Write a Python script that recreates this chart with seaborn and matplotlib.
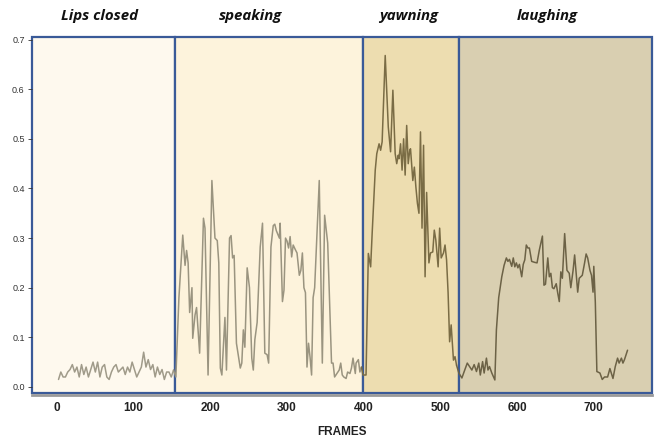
import numpy as np
import pandas as pd
import matplotlib
matplotlib.use('Agg')
import matplotlib.pyplot as plt
import seaborn as sns

# ===== DATA =====
phases = ['Lips closed', 'speaking', 'yawning', 'laughing']
phase_bounds = [-33, 154, 399, 524, 776]
phase_colors = ['#FEF9EE', '#FDF3DC', '#EDDDB0', '#D9CFB1']
line_colors = ['#a09b8a', '#9a9480', '#7a6c45', '#6c6246']

closed_frames = [2, 5, 8, 11, 14, 17, 20, 23, 26, 29, 32, 35, 38, 41, 44, 47, 50, 53, 56, 59,
                 62, 65, 68, 71, 74, 77, 80, 83, 86, 89, 92, 95, 98, 101, 104, 107, 110, 113,
                 116, 119, 122, 125, 128, 131, 134, 137, 140, 143, 146, 149, 152]
closed_vals = [0.015, 0.03, 0.02, 0.02, 0.03, 0.035, 0.045, 0.03, 0.04, 0.02, 0.045, 0.025,
               0.04, 0.02, 0.035, 0.05, 0.03, 0.05, 0.02, 0.04, 0.045, 0.02, 0.015, 0.03,
               0.04, 0.045, 0.03, 0.035, 0.04, 0.025, 0.04, 0.03, 0.05, 0.035, 0.02, 0.03,
               0.04, 0.07, 0.04, 0.055, 0.035, 0.045, 0.02, 0.04, 0.025, 0.035, 0.015, 0.03,
               0.03, 0.02, 0.034]

speak_frames = [155, 159, 164, 167, 169, 171, 173, 176, 177, 180, 182, 186, 191, 193, 197,
                202, 206, 209, 211, 213, 215, 219, 221, 225, 227, 229, 231, 234, 239, 241,
                243, 245, 248, 251, 254, 256, 258, 261, 265, 268, 271, 274, 276, 279, 282,
                284, 286, 290, 291, 294, 296, 298, 300, 302, 304, 306, 308, 311, 313, 316,
                318, 320, 322, 324, 326, 328, 330, 332, 334, 336, 342, 346, 349, 353, 355,
                358, 360, 362, 365, 368, 370, 372, 374, 377, 379, 382, 384, 386, 389, 390,
                393, 395, 397]
speak_vals = [0.02, 0.18, 0.306, 0.245, 0.275, 0.25, 0.15, 0.2, 0.098, 0.145, 0.16, 0.068,
              0.34, 0.32, 0.024, 0.416, 0.30, 0.295, 0.25, 0.038, 0.024, 0.14, 0.034, 0.30,
              0.305, 0.26, 0.265, 0.088, 0.038, 0.048, 0.115, 0.08, 0.24, 0.2, 0.058, 0.034,
              0.095, 0.13, 0.282, 0.33, 0.068, 0.065, 0.048, 0.282, 0.325, 0.328, 0.315, 0.3,
              0.33, 0.172, 0.195, 0.30, 0.294, 0.28, 0.303, 0.262, 0.286, 0.276, 0.27, 0.225,
              0.235, 0.27, 0.2, 0.19, 0.04, 0.088, 0.06, 0.024, 0.18, 0.2, 0.416, 0.048,
              0.346, 0.29, 0.195, 0.048, 0.048, 0.02, 0.027, 0.034, 0.048, 0.024, 0.02,
              0.017, 0.03, 0.027, 0.038, 0.058, 0.027, 0.048, 0.055, 0.03, 0.04]

yawn_frames = [399, 403, 406, 409, 411, 415, 417, 420, 422, 424, 428, 432, 435, 438, 441,
               443, 445, 446, 448, 450, 452, 454, 455, 456, 458, 460, 461, 464, 466, 468,
               470, 472, 474, 476, 478, 480, 482, 485, 487, 490, 492, 494, 497, 499, 501,
               504, 506, 508, 510, 512, 514, 517, 519, 521]
yawn_vals = [0.024, 0.024, 0.269, 0.242, 0.31, 0.437, 0.47, 0.49, 0.477, 0.494, 0.668,
             0.524, 0.474, 0.598, 0.47, 0.45, 0.467, 0.46, 0.49, 0.437, 0.5, 0.427, 0.477,
             0.527, 0.45, 0.477, 0.48, 0.416, 0.443, 0.403, 0.37, 0.35, 0.514, 0.32, 0.487,
             0.222, 0.392, 0.25, 0.27, 0.272, 0.316, 0.296, 0.242, 0.32, 0.26, 0.27, 0.286,
             0.256, 0.19, 0.091, 0.125, 0.054, 0.061, 0.044]

laugh_frames = [524, 528, 531, 535, 538, 541, 544, 547, 550, 552, 555, 557, 560, 562, 564,
                567, 571, 573, 576, 580, 583, 586, 588, 590, 593, 595, 597, 599, 601, 603,
                606, 608, 610, 612, 614, 616, 619, 623, 626, 629, 633, 635, 637, 640, 642,
                644, 646, 648, 651, 653, 655, 657, 659, 662, 665, 668, 670, 673, 675, 677,
                679, 681, 683, 685, 688, 690, 692, 695, 697, 699, 700, 702, 704, 708, 711,
                714, 718, 721, 725, 728, 731, 733, 736, 738, 740, 744]
laugh_vals = [0.028, 0.018, 0.031, 0.048, 0.041, 0.034, 0.045, 0.031, 0.048, 0.024, 0.051,
              0.028, 0.058, 0.034, 0.041, 0.028, 0.014, 0.115, 0.18, 0.222, 0.245, 0.26,
              0.253, 0.257, 0.243, 0.26, 0.242, 0.25, 0.24, 0.247, 0.222, 0.247, 0.256,
              0.286, 0.28, 0.28, 0.253, 0.251, 0.25, 0.276, 0.304, 0.205, 0.207, 0.26, 0.222,
              0.229, 0.2, 0.198, 0.208, 0.189, 0.172, 0.232, 0.219, 0.309, 0.235, 0.229, 0.2,
              0.235, 0.266, 0.229, 0.191, 0.219, 0.222, 0.225, 0.25, 0.268, 0.26, 0.235,
              0.225, 0.191, 0.243, 0.17, 0.031, 0.028, 0.015, 0.02, 0.02, 0.037, 0.017,
              0.041, 0.058, 0.048, 0.058, 0.048, 0.055, 0.074]

# ===== BUILD TABLE (each segment starts at the previous segment's last point) =====
segments = [(closed_frames, closed_vals), (speak_frames, speak_vals),
            (yawn_frames, yawn_vals), (laugh_frames, laugh_vals)]
rows = []
prev = None
for name, (fr, vals) in zip(phases, segments):
    if prev is not None:
        rows.append((prev[0], prev[1], name))
    for f, v in zip(fr, vals):
        rows.append((f, v, name))
    prev = (fr[-1], vals[-1])
df = pd.DataFrame(rows, columns=['frame', 'value', 'phase'])

# ===== PLOT =====
sns.set_style("white")
fig = plt.figure(figsize=(6.6, 4.37), dpi=100)
ax = fig.add_axes([0.048, 0.101, 0.94, 0.814])

for i in range(len(phases)):
    ax.axvspan(phase_bounds[i], phase_bounds[i + 1], ymin=0, ymax=1,
               facecolor=phase_colors[i], edgecolor='#3A5A98', linewidth=1.6,
               zorder=0, clip_on=False)

sns.lineplot(data=df, x='frame', y='value', hue='phase', palette=line_colors,
             estimator=None, sort=False, linewidth=1.1, legend=False, ax=ax, zorder=2)

ax.set_xlim(phase_bounds[0], phase_bounds[-1])
ax.set_ylim(-0.012, 0.705)
ax.set_yticks(np.arange(0, 0.71, 0.1))
ax.set_yticklabels([f'{t:.1f}' for t in np.arange(0, 0.71, 0.1)])
ax.set_xticks([0, 100, 200, 300, 400, 500, 600, 700])

for s in ['top', 'right', 'left']:
    ax.spines[s].set_visible(False)
ax.spines['bottom'].set_color('#9a9a9a')
ax.spines['bottom'].set_linewidth(2)
ax.spines['bottom'].set_position(('outward', 1.5))

ax.tick_params(axis='y', labelsize=6.5, length=3, width=0.6, colors='#333333', pad=2, left=True)
ax.tick_params(axis='x', labelsize=8.5, length=0, pad=5, labelcolor='#222222')
for lab in ax.get_xticklabels():
    lab.set_fontweight('bold')
    lab.set_family('Liberation Sans')
for lab in ax.get_yticklabels():
    lab.set_family('Liberation Sans')

ax.set_xlabel('FRAMES', fontsize=8.5, fontweight='bold', family='Liberation Sans',
              labelpad=9, color='#222222')
ax.set_ylabel('')

title_x = [56, 252, 458, 640]
for name, tx in zip(phases, title_x):
    ax.text(tx, 1.06, name, transform=ax.get_xaxis_transform(), ha='center', va='center',
            fontsize=10.8, fontweight='bold', fontstyle='italic', family='Open Sans',
            color='#111111')

plt.savefig('out.png', dpi=100)
plt.close()
